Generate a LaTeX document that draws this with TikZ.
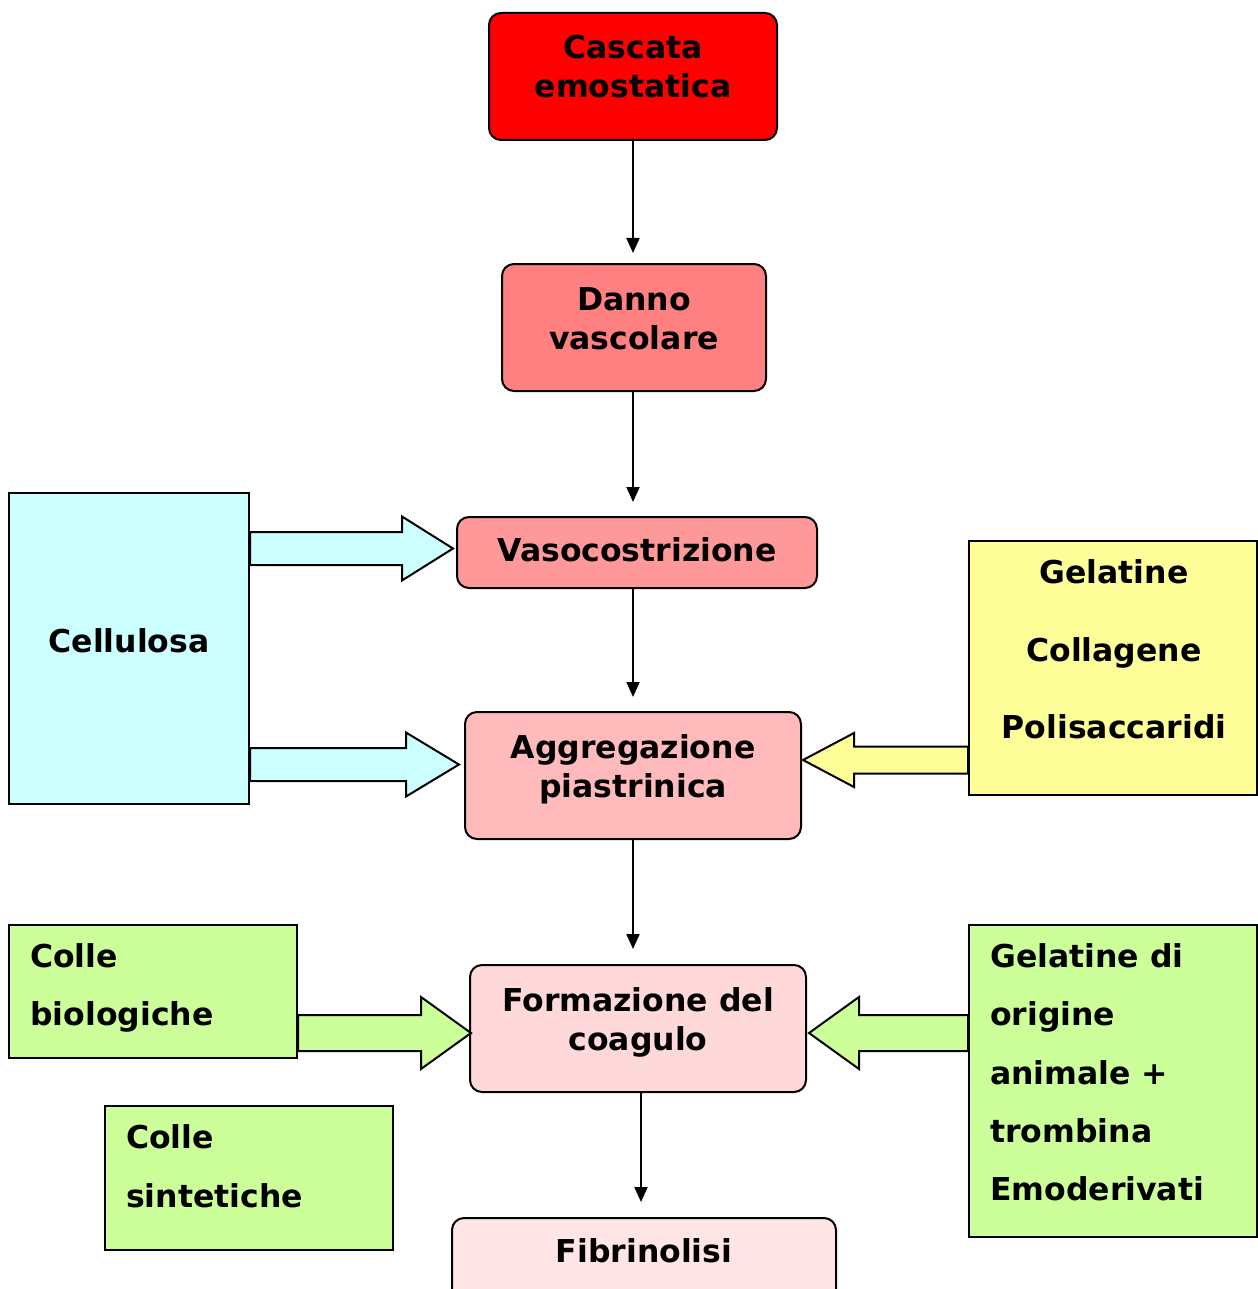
\documentclass[tikz,border=0pt]{standalone}
\usepackage{fontspec}
\setmainfont{DejaVu Sans}
\usetikzlibrary{calc,arrows.meta}
\definecolor{cRed}{HTML}{FF0000}
\definecolor{cDanno}{HTML}{FF8080}
\definecolor{cVaso}{HTML}{FF9999}
\definecolor{cAggr}{HTML}{FFBBBB}
\definecolor{cForm}{HTML}{FFD9D9}
\definecolor{cFibr}{HTML}{FFE5E5}
\definecolor{cCyan}{HTML}{CCFFFF}
\definecolor{cYel}{HTML}{FFFF99}
\definecolor{cGreen}{HTML}{CCFF99}
\tikzset{
  flowbox/.style={draw=black, line width=2pt, rounded corners=12pt, inner sep=0pt},
  sidebox/.style={draw=black, line width=2pt, inner sep=0pt},
  lbl/.style={font=\fontsize{31.5}{39}\selectfont\bfseries, inner sep=0pt, anchor=base},
  lbll/.style={lbl, anchor=base west},
  thinarr/.style={line width=2pt, -{Triangle[length=15pt,width=13pt]}},
  blockarr/.style={draw=black, line width=2pt, line join=miter}
}
\newcommand\blockarrow[6]{%
  \draw[blockarr,fill=#1] let \p1=(#2), \p2=(#3) in
    ({\x1},{\y2+#4pt}) -- ({\x2-(#6pt)},{\y2+#4pt}) -- ({\x2-(#6pt)},{\y2+#5pt})
    -- (\x2,\y2) -- ({\x2-(#6pt)},{\y2-#5pt}) -- ({\x2-(#6pt)},{\y2-#4pt})
    -- ({\x1},{\y2-#4pt}) -- cycle;}
\begin{document}
\begin{tikzpicture}[x=1pt,y=-1pt]
\useasboundingbox (0,0) rectangle (1257,1289);
% flow boxes
\node[flowbox, fill=cRed, minimum width=288pt, minimum height=127pt] (casc) at (633,76.5) {};
\node[flowbox, fill=cDanno, minimum width=264pt, minimum height=127pt] (danno) at (634,327.5) {};
\node[flowbox, fill=cVaso, minimum width=360pt, minimum height=71pt] (vaso) at (637,552.5) {};
\node[flowbox, fill=cAggr, minimum width=336pt, minimum height=127pt] (aggr) at (633,775.5) {};
\node[flowbox, fill=cForm, minimum width=336pt, minimum height=127pt] (form) at (638,1028.5) {};
\node[flowbox, fill=cFibr, minimum width=384pt, minimum height=90pt] (fibr) at (644,1263) {};
% side boxes
\node[sidebox, fill=cCyan, minimum width=240pt, minimum height=311pt] (cell) at (129,648.5) {};
\node[sidebox, fill=cYel, minimum width=288pt, minimum height=254pt] (gel) at (1113,668) {};
\node[sidebox, fill=cGreen, minimum width=288pt, minimum height=133pt] (bio) at (153,991.5) {};
\node[sidebox, fill=cGreen, minimum width=288pt, minimum height=144pt] (sint) at (249,1178) {};
\node[sidebox, fill=cGreen, minimum width=288pt, minimum height=312pt] (geldi) at (1113,1081) {};
% texts
\node[lbl] (t1a) at (633,59) {Cascata};
\node[lbl] (t1b) at (633,98) {emostatica};
\node[lbl] (t2a) at (634,310) {Danno};
\node[lbl] (t2b) at (634,349) {vascolare};
\node[lbl] (t3) at (637,561) {Vasocostrizione};
\node[lbl] (t4a) at (633,758) {Aggregazione};
\node[lbl] (t4b) at (633,797) {piastrinica};
\node[lbl] (t5a) at (638,1011) {Formazione del};
\node[lbl] (t5b) at (638,1050) {coagulo};
\node[lbl] (t6) at (644,1262) {Fibrinolisi};
\node[lbl] (tc) at (129,652) {Cellulosa};
\node[lbl] (tg1) at (1114,583) {Gelatine};
\node[lbl] (tg2) at (1114,661) {Collagene};
\node[lbl] (tg3) at (1114,738) {Polisaccaridi};
\node[lbll] (tb1) at (30,967) {Colle};
\node[lbll] (tb2) at (30,1025) {biologiche};
\node[lbll] (ts1) at (126,1148) {Colle};
\node[lbll] (ts2) at (126,1207) {sintetiche};
\node[lbll] (td1) at (990,967) {Gelatine di};
\node[lbll] (td2) at (990,1025) {origine};
\node[lbll] (td3) at (990,1084) {animale +};
\node[lbll] (td4) at (990,1142) {trombina};
\node[lbll] (td5) at (990,1200) {Emoderivati};
% thin arrows
\draw[thinarr, shorten >=10pt] (casc.south) -- (danno.north -| casc.south);
\draw[thinarr, shorten >=14pt] (danno.south -| casc.south) -- (vaso.north -| casc.south);
\draw[thinarr, shorten >=14pt] (vaso.south -| aggr.north) -- (aggr.north);
\draw[thinarr, shorten >=15pt] (aggr.south) -- (aggr.south |- form.north);
\draw[thinarr, shorten >=15pt] ([xshift=3pt]form.south) -- ([xshift=3pt]form.south |- fibr.north);
% block arrows
\blockarrow{cCyan}{cell.east}{$(vaso.west)+(-3,-4)$}{16.5}{32}{51}
\blockarrow{cCyan}{cell.east}{$(aggr.west)+(-5,-11)$}{16.5}{32}{53}
\blockarrow{cYel}{gel.west}{$(aggr.east)+(1,-15.5)$}{13.5}{27}{-51}
\blockarrow{cGreen}{bio.east}{$(form.west)+(2,4.5)$}{18}{36}{50}
\blockarrow{cGreen}{geldi.west}{$(form.east)+(2,4.5)$}{18}{36}{-50}
\end{tikzpicture}
\end{document}
